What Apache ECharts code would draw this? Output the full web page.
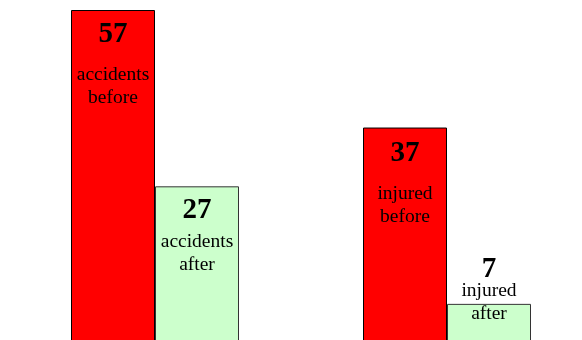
<!DOCTYPE html>
<html>
<head>
<meta charset="utf-8">
<script src="https://cdn.jsdelivr.net/npm/echarts@6/dist/echarts.min.js"></script>
<style>
    html, body { margin: 0; padding: 0; background: #fff; }
    #chart { width: 582px; height: 340px; }
</style>
</head>
<body>
<div id="chart"></div>
<script>
const categories = ['accidents', 'injured'];
const beforeValues = [57, 37];
const afterValues = [27, 7];

// label spacing per bar: [offset from bar top, number line height]
const beforeLabelFit = [[-4, 57], [-3, 58]];
const afterLabelFit = [[4, 40], [-45, 21]];

const rich = lineH => ({
    n: {
        fontFamily: 'Liberation Serif',
        fontSize: 29,
        fontWeight: 'bold',
        color: '#000',
        lineHeight: lineH,
    },
    t: {
        fontFamily: 'Liberation Serif',
        fontSize: 19.5,
        color: '#000',
        lineHeight: 23,
    },
});

const makeData = (values, word, fits) =>
    values.map((v, i) => ({
        value: v,
        label: {
            show: true,
            position: 'insideTop',
            distance: 0,
            offset: [0, fits[i][0]],
            formatter: `{n|${v}}\n{t|${categories[i]}}\n{t|${word}}`,
            rich: rich(fits[i][1]),
        },
    }));

const options = {
    animation: false,
    grid: { left: 9, top: 10, width: 584, height: 335, outerBoundsMode: 'none' },
    xAxis: {
        type: 'category',
        data: categories,
        show: false,
    },
    yAxis: {
        type: 'value',
        min: 0,
        max: 57,
        show: false,
    },
    series: [
        {
            type: 'bar',
            barWidth: 84,
            barGap: '0%',
            itemStyle: { color: '#ff0000', borderColor: '#000', borderWidth: 1 },
            data: makeData(beforeValues, 'before', beforeLabelFit),
        },
        {
            type: 'bar',
            barWidth: 84,
            itemStyle: { color: '#ccffcc', borderColor: '#333', borderWidth: 1 },
            data: makeData(afterValues, 'after', afterLabelFit),
        },
    ],
};

const chart = echarts.init(document.getElementById('chart'));
chart.setOption(options);
</script>
</body>
</html>
